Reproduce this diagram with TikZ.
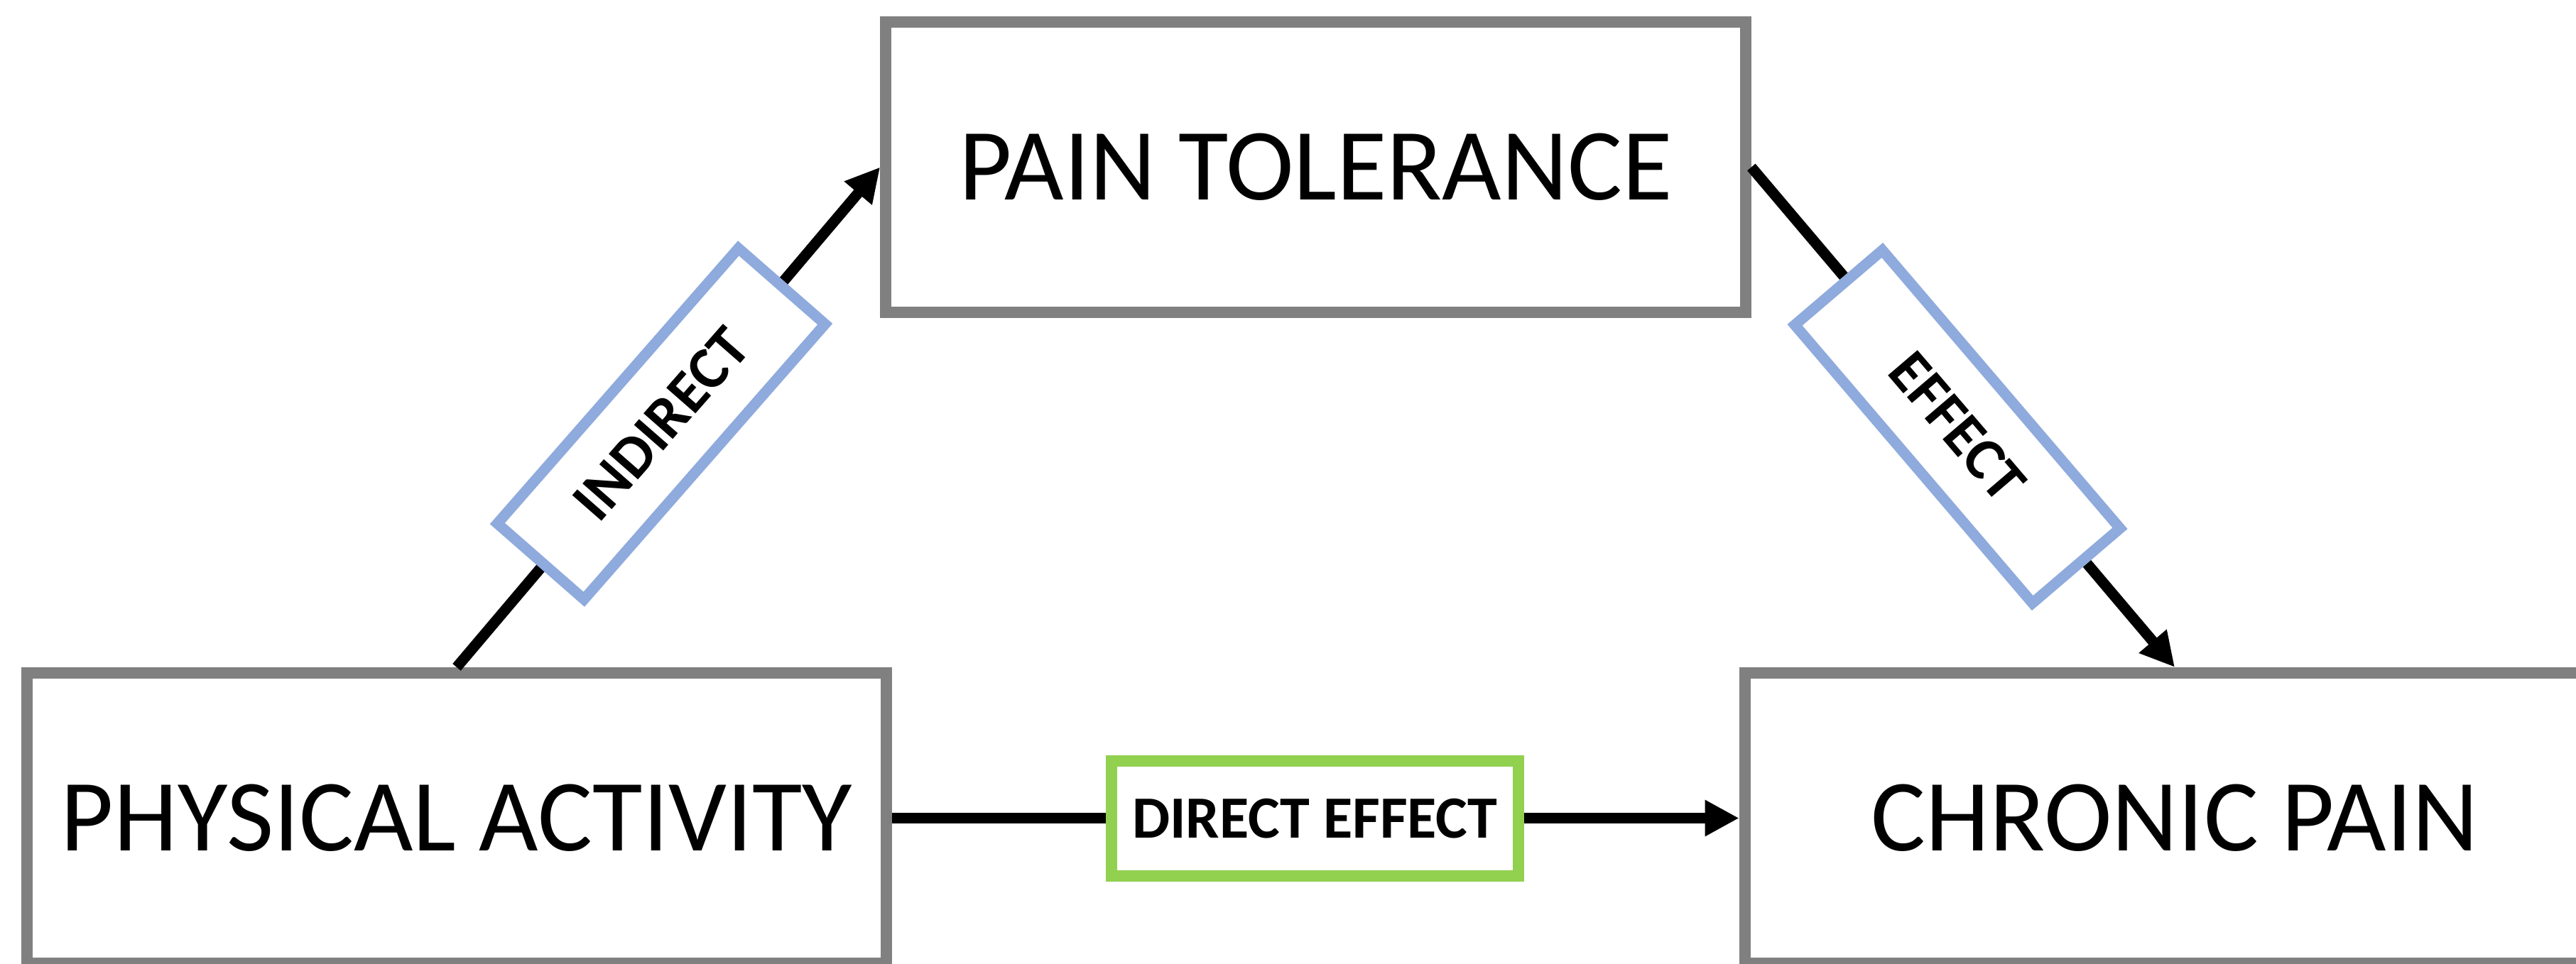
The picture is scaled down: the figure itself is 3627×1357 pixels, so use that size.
\documentclass[tikz,border=0pt]{standalone}
\usepackage{fontspec}
\setmainfont{Carlito}
\usetikzlibrary{arrows.meta}
\definecolor{boxgray}{RGB}{128,128,128}
\definecolor{labelblue}{RGB}{143,170,220}
\definecolor{labelgreen}{RGB}{146,208,80}
\begin{document}
\begin{tikzpicture}[x=0.01cm,y=-0.01cm,
  varbox/.style={draw=boxgray, line width=0.16cm, fill=white,
    minimum width=12.1cm, minimum height=4.09cm, inner sep=0pt,
    font=\fontsize{41}{49}\selectfont},
  pathlabel/.style={draw=labelblue, line width=0.15cm, fill=white,
    minimum width=5.15cm, minimum height=1.62cm, inner sep=0pt,
    font=\bfseries\fontsize{24}{29}\selectfont},
  link/.style={line width=0.15cm, -{Triangle[length=0.48cm,width=0.48cm]}}]
\useasboundingbox (0,0) rectangle (3627,1357);

% the three variables
\node[varbox] (tol) at (1852.5,235.5) {PAIN TOLERANCE};
\node[varbox] (act) at (643,1152.5) {PHYSICAL ACTIVITY};
\node[varbox] (pain) at (3062,1152.5) {CHRONIC PAIN};

% paths between them
\draw[link] (act.north) -- (tol.west);
\draw[link] (tol.east) -- (pain.north);
\draw[link] (act.east) -- (pain.west);

% labels sitting on the paths
\node[pathlabel, rotate=48.8] (indirect) at (931,597) {INDIRECT};
\node[pathlabel, rotate=-49.5] (effect) at (2756,601) {EFFECT};
\node[pathlabel, draw=labelgreen, line width=0.16cm,
  minimum width=5.73cm] (direct) at (1851.5,1153) {DIRECT EFFECT};
\end{tikzpicture}
\end{document}
